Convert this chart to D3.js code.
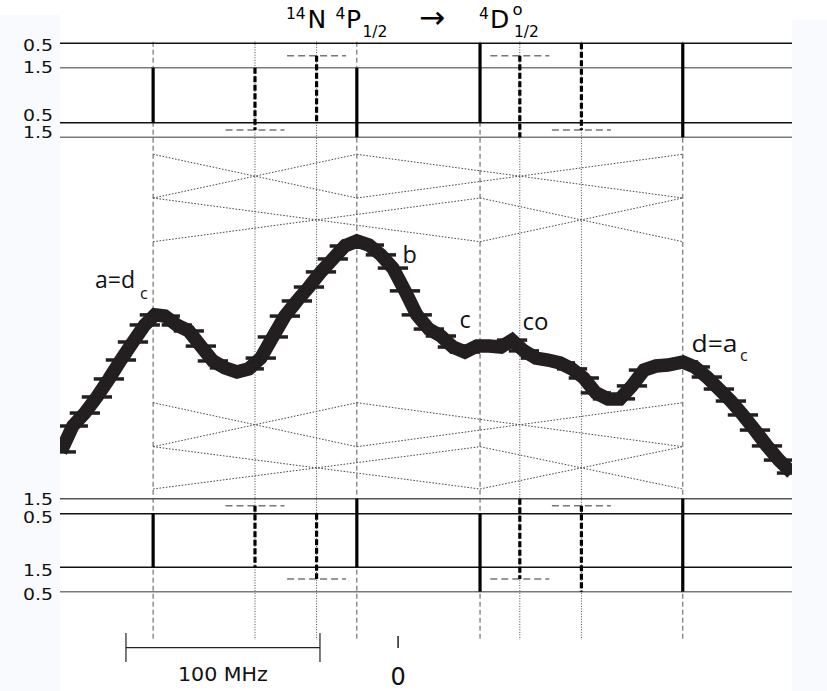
<!DOCTYPE html>
<html><head><meta charset="utf-8">
<script src="https://cdn.jsdelivr.net/npm/d3@7"></script>
<style>body{margin:0;background:#fff}</style>
</head><body>
<svg id="c" width="827" height="691"></svg>
<script>
// ---------- DATA ----------
// main hyperfine components a, b, c, d (MHz, relative)
const mainFreqs = [-126, -21, 42.5, 147];
// crossover resonances
const crossFreqs = [-73.5, -41.75, 63, 94.75];
// level-diagram lines (schematic energy units) and their F labels
const levelLabels = ["0.5", "1.5", "0.5", "1.5", "1.5", "0.5", "1.5", "0.5"];
const levelEnergy = [0, 4.45, 14.48, 17.14, 83.04, 85.78, 95.55, 100];
// transitions drawn in the two level panels
const transFreq = [-126, -73.5, -41.75, -21, 42.5, 63, 94.75, 147];
const transType = ["solid", "dashed", "dashed", "solid", "solid", "dashed", "dashed", "solid"];
const topFrom = [4.45, 4.45, 2.26, 4.45, 0, 2.26, 0, 0];
const topTo   = [14.48, 15.81, 14.48, 17.14, 14.48, 17.14, 15.81, 17.14];
const topStub = [null, 15.81, 2.26, null, null, 2.26, 15.81, null];
const botFrom = [85.78, 84.32, 85.78, 83.04, 85.78, 83.04, 84.32, 83.04];
const botTo   = [95.55, 95.55, 97.68, 95.55, 100, 97.68, 100, 100];
const botStub = [null, 84.32, 97.68, null, null, 97.68, 84.32, null];
const stubHalf = 15.2;
// crossing (X) schematics
const crossFrom = [-126, -21, -126, 42.5];
const crossTo   = [-21, 147, 42.5, 147];
const crossUpperE = [[20.24, 28.21], [20.24, 28.21], [28.21, 36.18], [28.21, 36.18]];
const crossLowerE = [[65.54, 73.56], [65.54, 73.56], [73.56, 81.27], [73.56, 81.27]];
const guideRange = [-0.3, 108.8];
// measured spectrum
const freqMHz = [-173.6,-167.4,-161.2,-155.0,-148.8,-142.6,-136.4,-130.3,-125.1,-120.0,
  -113.8,-107.6,-101.4,-95.2,-89.0,-82.8,-76.7,-70.5,-64.3,-58.1,
  -51.9,-45.7,-39.5,-33.4,-27.2,-21.0,-14.8,-8.6,-2.4,3.8,
  9.9,16.1,22.3,28.5,34.7,40.9,47.1,53.3,59.0,65.1,
  71.3,77.5,83.7,89.9,96.0,102.2,108.4,114.6,120.8,127.0,
  133.2,139.3,147.1,153.2,159.4,165.6,171.8,178.0,184.2,190.4,
  196.6,203.3];
const signal = [0.117,0.225,0.279,0.346,0.421,0.500,0.575,0.646,0.688,0.683,
  0.646,0.621,0.558,0.496,0.467,0.450,0.463,0.508,0.596,0.683,
  0.746,0.804,0.867,0.921,0.975,0.996,0.979,0.938,0.883,0.788,
  0.688,0.629,0.600,0.554,0.533,0.558,0.558,0.554,0.583,0.538,
  0.508,0.500,0.488,0.463,0.425,0.363,0.338,0.338,0.392,0.458,
  0.475,0.479,0.492,0.471,0.429,0.379,0.329,0.271,0.208,0.142,
  0.083,0.029];
const freqErr = 7.8;
const scaleBar = [-140, -40];
const scaleBarLabel = "100 MHz";
const zeroTick = [0];

// ---------- SCALES ----------
const svg = d3.select("#c");
const x = d3.scaleLinear().domain([-174, 203.3]).range([60, 792]);
const yD = d3.scaleLinear().domain([0, 100]).range([43.3, 591.7]);
const yS = d3.scaleLinear().domain([0, 1]).range([480, 240]);
const INK = "#231f20";

// background
svg.append("rect").attr("width", 827).attr("height", 691).attr("fill", "#fff");
svg.append("rect").attr("x", 0).attr("y", 15).attr("width", 60).attr("height", 676).attr("fill", "#f8fafd");
svg.append("rect").attr("x", 792).attr("y", 20).attr("width", 35).attr("height", 671).attr("fill", "#f8fafd");

// guides
const g = svg.append("g");
g.selectAll(".gm").data(mainFreqs).join("line")
  .attr("x1", d => x(d)).attr("x2", d => x(d))
  .attr("y1", yD(guideRange[0])).attr("y2", yD(guideRange[1]))
  .attr("stroke", "#666").attr("stroke-width", 1.1).attr("stroke-dasharray", "5,3");
g.selectAll(".gc").data(crossFreqs).join("line")
  .attr("x1", d => x(d)).attr("x2", d => x(d))
  .attr("y1", yD(guideRange[0])).attr("y2", yD(guideRange[1]))
  .attr("stroke", "#444").attr("stroke-width", 1).attr("stroke-dasharray", "1,1.6");

// X schematics
function drawX(eArr) {
  crossFrom.forEach((f0, i) => {
    const f1 = crossTo[i], [e0, e1] = eArr[i];
    [[e0, e1], [e1, e0]].forEach(([a, b]) => {
      g.append("line").attr("x1", x(f0)).attr("y1", yD(a)).attr("x2", x(f1)).attr("y2", yD(b))
        .attr("stroke", "#4a4a4a").attr("stroke-width", 1).attr("stroke-dasharray", "1.6,1.6");
    });
  });
}
drawX(crossUpperE); drawX(crossLowerE);

// levels
const levelColor = ["#111", "#7a7a7a", "#111", "#7a7a7a", "#555", "#111", "#111", "#7a7a7a"];
const labelOff = [7.4, 5.2, -2.2, 1.2, 6.3, 8.8, 8.7, 8.3];
levelEnergy.forEach((e, i) => {
  g.append("line").attr("x1", x(-174)).attr("x2", x(203.3)).attr("y1", yD(e)).attr("y2", yD(e))
    .attr("stroke", levelColor[i]).attr("stroke-width", 1.4);
  g.append("text").attr("x", 53).attr("y", yD(e) + labelOff[i]).attr("text-anchor", "end")
    .attr("font-family", "DejaVu Sans").attr("font-size", 16).attr("fill", "#111")
    .attr("textLength", 30).attr("lengthAdjust", "spacingAndGlyphs").text(levelLabels[i]);
});

// transitions
function drawTrans(from, to, stub) {
  transFreq.forEach((f, i) => {
    if (stub[i] !== null) {
      g.append("line").attr("x1", x(f - stubHalf)).attr("x2", x(f + stubHalf))
        .attr("y1", yD(stub[i])).attr("y2", yD(stub[i]))
        .attr("stroke", "#777").attr("stroke-width", 1.4).attr("stroke-dasharray", "7,4");
    }
    g.append("line").attr("x1", x(f)).attr("x2", x(f)).attr("y1", yD(from[i])).attr("y2", yD(to[i]))
      .attr("stroke", "#000").attr("stroke-width", 3.2)
      .attr("stroke-dasharray", transType[i] === "dashed" ? "6,2.5" : null);
  });
}
drawTrans(topFrom, topTo, topStub);
drawTrans(botFrom, botTo, botStub);

// spectrum
const pts = freqMHz.map((f, i) => [f, signal[i]]);
svg.append("clipPath").attr("id", "clip").append("rect")
  .attr("x", 60).attr("y", 0).attr("width", 732).attr("height", 691);
const cg = svg.append("g").attr("clip-path", "url(#clip)");
cg.append("path").datum(pts)
  .attr("d", d3.line().x(d => x(d[0])).y(d => yS(d[1])))
  .attr("fill", "none").attr("stroke", INK).attr("stroke-width", 13.5)
  .attr("stroke-linejoin", "miter").attr("stroke-miterlimit", 2.5);
cg.selectAll(".eb").data(pts).join("line")
  .attr("x1", d => x(d[0] - freqErr)).attr("x2", d => x(d[0] + freqErr))
  .attr("y1", d => yS(d[1])).attr("y2", d => yS(d[1]))
  .attr("stroke", INK).attr("stroke-width", 3.5);

// scale bar
const sbY = 647.7;
svg.append("line").attr("x1", x(scaleBar[0])).attr("x2", x(scaleBar[1])).attr("y1", sbY).attr("y2", sbY)
  .attr("stroke", "#222").attr("stroke-width", 1.2);
scaleBar.forEach(f => svg.append("line").attr("x1", x(f)).attr("x2", x(f)).attr("y1", 633).attr("y2", 662)
  .attr("stroke", "#222").attr("stroke-width", 1.2));
svg.append("text").attr("x", (x(scaleBar[0]) + x(scaleBar[1])) / 2).attr("y", 681).attr("text-anchor", "middle")
  .attr("font-family", "DejaVu Sans").attr("font-size", 19).attr("fill", "#111")
  .attr("textLength", 90).attr("lengthAdjust", "spacingAndGlyphs").text(scaleBarLabel);

// zero tick via axis
const ax = svg.append("g").attr("transform", "translate(0,636)")
  .call(d3.axisBottom(x).tickValues(zeroTick).tickSize(12).tickPadding(20).tickFormat(d3.format("d")));
ax.select(".domain").remove();
ax.selectAll(".tick line").attr("stroke", "#222").attr("stroke-width", 1.5);
ax.selectAll(".tick text").attr("font-family", "DejaVu Sans").attr("font-size", 24).attr("fill", "#111");

// title
const T = svg.append("g").attr("font-family", "DejaVu Sans").attr("fill", "#000");
function tx(s, xx, yy, fs) { T.append("text").attr("x", xx).attr("y", yy).attr("font-size", fs).text(s); }
tx("14", 286, 18.5, 15.5); tx("N", 307.5, 28, 25);
tx("4", 335.5, 18.5, 15.5); tx("P", 346, 28, 25); tx("1/2", 362.5, 37, 15.5);
tx("\u2192", 419, 27.5, 31);
tx("4", 479, 18.5, 15.5); tx("D", 490, 28, 25); tx("o", 512.5, 14.5, 16.5); tx("1/2", 514, 37, 15.5);

// peak labels
const L = svg.append("g").attr("font-family", "Open Sans").attr("fill", "#111");
function lab(s, xx, yy, fs, w) {
  const t = L.append("text").attr("x", xx).attr("y", yy).attr("font-size", fs).text(s);
  if (w) t.attr("textLength", w).attr("lengthAdjust", "spacingAndGlyphs");
}
lab("a=d", 95, 288, 23.5, 40); lab("c", 140, 298.5, 16);
lab("b", 402.5, 263, 23.5);
lab("c", 459.5, 328, 23.5);
lab("co", 522.5, 330, 23.5, 26);
lab("d=a", 691.5, 352, 23.5, 46); lab("c", 740, 360.5, 16);
</script>
</body></html>
